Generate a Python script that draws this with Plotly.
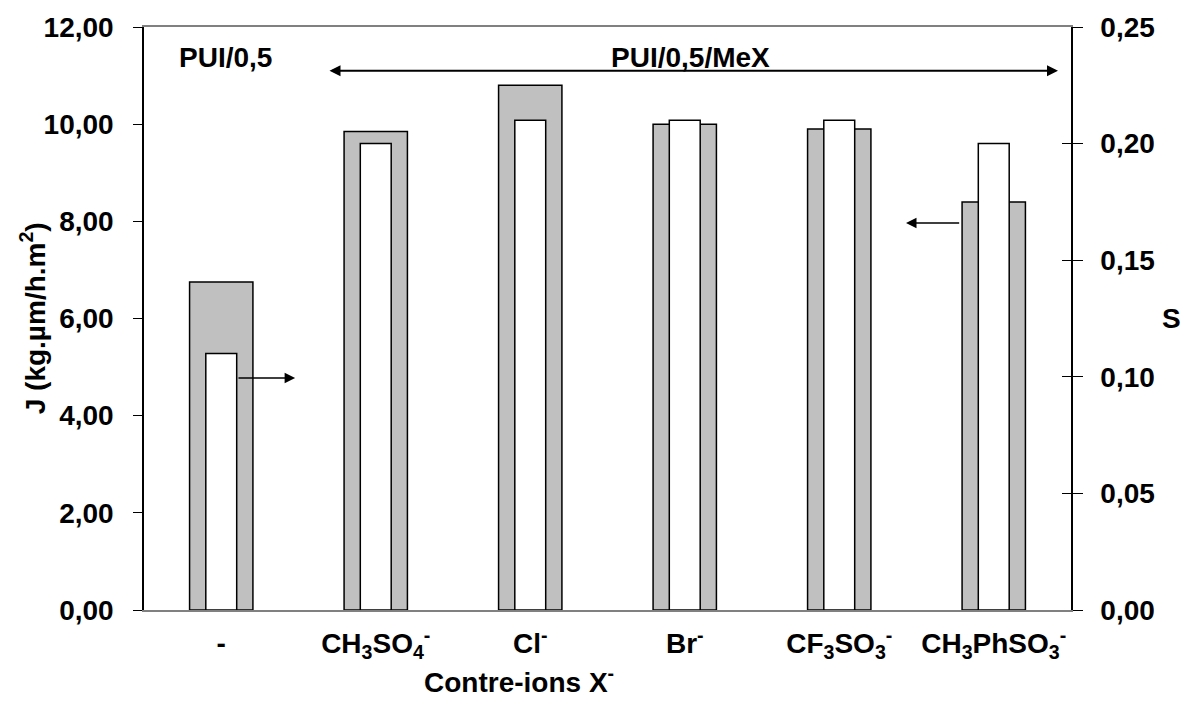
import plotly.graph_objects as go

categories = ["-", "CH<sub>3</sub>SO<sub>4</sub><sup>-</sup>", "Cl<sup>-</sup>", "Br<sup>-</sup>",
              "CF<sub>3</sub>SO<sub>3</sub><sup>-</sup>", "CH<sub>3</sub>PhSO<sub>3</sub><sup>-</sup>"]
J_values = [6.75, 9.85, 10.80, 10.00, 9.90, 8.40]
S_values = [0.110, 0.200, 0.210, 0.210, 0.210, 0.200]
J_ticks = [0, 2, 4, 6, 8, 10, 12]
S_ticks = [0, 0.05, 0.10, 0.15, 0.20, 0.25]

FONT = "Arial, Liberation Sans, sans-serif"
FS = 28

fig = go.Figure()
fig.add_trace(go.Bar(x=categories, y=J_values, width=0.41, yaxis="y",
                     marker=dict(color="#C0C0C0", line=dict(color="black", width=1.5)),
                     showlegend=False))
fig.add_trace(go.Bar(x=categories, y=S_values, width=0.20, yaxis="y2",
                     marker=dict(color="white", line=dict(color="black", width=1.5)),
                     showlegend=False))
fig.add_trace(go.Scatter(x=[categories[0]], y=[0], yaxis="y3", mode="markers",
                         marker=dict(opacity=0), showlegend=False, hoverinfo="skip"))

def fmt(v):
    return "<b>%s</b>" % ("%.2f" % v).replace(".", ",")

fig.update_layout(
    width=1183, height=711,
    margin=dict(l=144, r=112, t=27, b=101, autoexpand=False),
    paper_bgcolor="white", plot_bgcolor="white",
    font=dict(family=FONT, size=FS, color="black"),
    xaxis=dict(showline=True, linecolor="#808080", linewidth=1.5, mirror=True,
               ticks="", showgrid=False, tickfont=dict(size=FS, family=FONT),
               tickvals=categories, ticktext=["<b>%s</b>" % c for c in categories],
               ticklabelstandoff=8, automargin=False),
    yaxis=dict(range=[0, 12], tickvals=J_ticks, ticktext=[fmt(v) for v in J_ticks],
               showgrid=False, showline=True, linecolor="black", linewidth=1.5,
               ticks="outside", ticklen=9, tickwidth=1, tickcolor="black",
               tickfont=dict(size=FS, family=FONT), automargin=False,
               ticklabelstandoff=14, zeroline=False),
    yaxis2=dict(range=[0, 0.25], tickvals=S_ticks, ticktext=[fmt(v) for v in S_ticks],
                showgrid=False, overlaying="y", side="right", showline=True,
                linecolor="black", linewidth=1.5, automargin=False,
                ticks="outside", ticklen=10, tickwidth=1, tickcolor="black",
                tickfont=dict(size=FS, family=FONT),
                ticklabelstandoff=12, zeroline=False),
    yaxis3=dict(range=[0, 0.25], tickvals=S_ticks, overlaying="y", side="right",
                showticklabels=False, showgrid=False, zeroline=False, automargin=False,
                ticks="inside", ticklen=9, tickwidth=1, tickcolor="black"),
)

D = dict(xref="x domain", yref="y domain", axref="x domain", ayref="y domain")
anns = [
    dict(text="<b>PUI/0,5</b>", x=0.036, y=0.9485, xref="paper", yref="paper",
         xanchor="left", yanchor="middle", showarrow=False),
    dict(text="<b>PUI/0,5/MeX</b>", x=0.59, y=0.9485, xref="paper", yref="paper",
         xanchor="center", yanchor="middle", showarrow=False),
    dict(text="", x=0.986, y=0.925, ax=0.1985, ay=0.925, showarrow=True, arrowhead=2,
         startarrowhead=2, arrowside="end+start", arrowwidth=2, arrowsize=1.1,
         startarrowsize=1.1, arrowcolor="black", **D),
    dict(text="", x=0.163, y=0.398, ax=0.1003, ay=0.398, showarrow=True, arrowhead=2,
         arrowwidth=1.5, arrowsize=1.4, arrowcolor="black", **D),
    dict(text="", x=0.822, y=0.664, ax=0.881, ay=0.664, showarrow=True, arrowhead=2,
         arrowwidth=1.5, arrowsize=1.4, arrowcolor="black", **D),
    dict(text="<b>J (kg.µm/h.m<sup>2</sup>)</b>", x=-0.12, y=0.5, xref="paper", yref="paper",
         textangle=-90, showarrow=False, xanchor="center", yanchor="middle"),
    dict(text="<b>S</b>", x=1.108, y=0.5, xref="paper", yref="paper",
         showarrow=False, xanchor="center", yanchor="middle"),
    dict(text="<b>Contre-ions X<sup>-</sup></b>", x=0.405, y=-0.12, xref="paper", yref="paper",
         showarrow=False, xanchor="center", yanchor="middle"),
]
fig.update_layout(annotations=anns)

fig.write_html("out.html", config={"displayModeBar": False},
               post_script="document.body.style.margin='0';document.body.style.overflow='hidden';")
